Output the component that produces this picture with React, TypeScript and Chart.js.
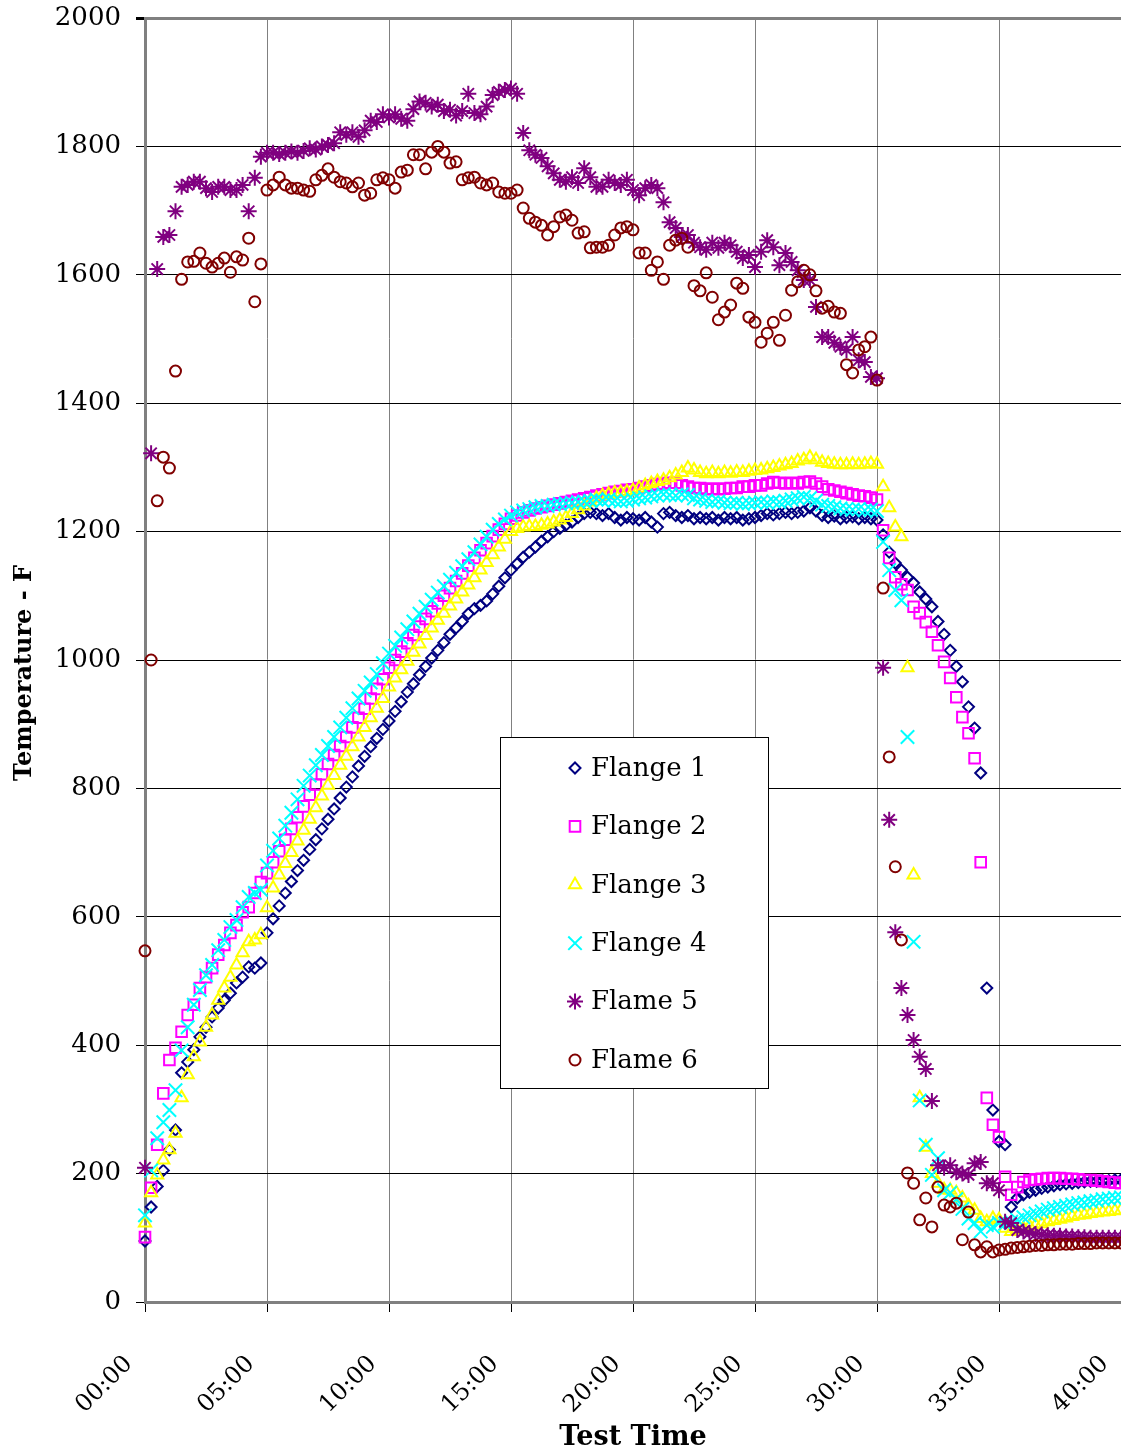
import React, { useEffect, useRef } from 'react';
import { Chart, registerables } from 'chart.js';
import { drawPoint } from 'chart.js/helpers';

Chart.register(...registerables);

// Sample times in minutes (one sample every 15 s)
const TIME_MIN = [
  0, 0.25, 0.5, 0.75, 1, 1.25, 1.5, 1.75, 2, 2.25, 2.5, 2.75, 3, 3.25, 3.5, 3.75, 4, 4.25, 4.5, 4.75,
  5, 5.25, 5.5, 5.75, 6, 6.25, 6.5, 6.75, 7, 7.25, 7.5, 7.75, 8, 8.25, 8.5, 8.75, 9, 9.25, 9.5, 9.75,
  10, 10.25, 10.5, 10.75, 11, 11.25, 11.5, 11.75, 12, 12.25, 12.5, 12.75, 13, 13.25, 13.5, 13.75, 14, 14.25, 14.5, 14.75,
  15, 15.25, 15.5, 15.75, 16, 16.25, 16.5, 16.75, 17, 17.25, 17.5, 17.75, 18, 18.25, 18.5, 18.75, 19, 19.25, 19.5, 19.75,
  20, 20.25, 20.5, 20.75, 21, 21.25, 21.5, 21.75, 22, 22.25, 22.5, 22.75, 23, 23.25, 23.5, 23.75, 24, 24.25, 24.5, 24.75,
  25, 25.25, 25.5, 25.75, 26, 26.25, 26.5, 26.75, 27, 27.25, 27.5, 27.75, 28, 28.25, 28.5, 28.75, 29, 29.25, 29.5, 29.75,
  30, 30.25, 30.5, 30.75, 31, 31.25, 31.5, 31.75, 32, 32.25, 32.5, 32.75, 33, 33.25, 33.5, 33.75, 34, 34.25, 34.5, 34.75,
  35, 35.25, 35.5, 35.75, 36, 36.25, 36.5, 36.75, 37, 37.25, 37.5, 37.75, 38, 38.25, 38.5, 38.75, 39, 39.25, 39.5, 39.75,
  40,
];

const FLANGE_1 = [
  95, 148, 180, 205, 237, 268, 357, 374, 393, 413, 428, 444, 458, 470, 481, 497, 506, 522, 520, 528,
  575, 597, 617, 637, 655, 672, 688, 705, 720, 737, 752, 768, 785, 802, 818, 835, 850, 865, 878, 892,
  905, 920, 935, 950, 963, 977, 990, 1003, 1015, 1027, 1040, 1050, 1060, 1072, 1080, 1085, 1092, 1103, 1115, 1128,
  1140, 1150, 1160, 1168, 1176, 1185, 1192, 1200, 1205, 1210, 1215, 1222, 1228, 1230, 1228, 1225, 1228, 1222, 1218, 1222,
  1220, 1218, 1222, 1215, 1207, 1228, 1230, 1225, 1222, 1225, 1220, 1222, 1220, 1222, 1218, 1222, 1220, 1222, 1218, 1220,
  1222, 1225, 1228, 1226, 1228, 1230, 1228, 1230, 1232, 1237, 1232, 1225, 1222, 1224, 1220, 1222, 1223, 1220, 1222, 1220,
  1218, 1195, 1168, 1151, 1140, 1129, 1120, 1106, 1095, 1083, 1060, 1040, 1015, 990, 966, 927, 894, 824, 489, 299,
  250, 245, 148, 162, 167, 171, 174, 177, 179, 181, 183, 184, 185, 186, 187, 188, 188, 189, 189, 190,
  190,
];

const FLANGE_2 = [
  101, 178, 245, 325, 377, 396, 421, 447, 463, 489, 506, 520, 541, 556, 575, 587, 607, 615, 637, 654,
  668, 685, 702, 720, 737, 755, 772, 790, 806, 822, 838, 852, 866, 880, 895, 910, 924, 940, 955, 970,
  988, 1000, 1013, 1026, 1039, 1052, 1064, 1076, 1088, 1100, 1112, 1123, 1135, 1147, 1159, 1171, 1182, 1193, 1203, 1212,
  1220, 1225, 1230, 1233, 1236, 1238, 1240, 1242, 1244, 1246, 1248, 1250, 1252, 1254, 1256, 1258, 1260, 1262, 1263, 1265,
  1266, 1268, 1270, 1272, 1274, 1275, 1276, 1276, 1272, 1270, 1268, 1268, 1266, 1267, 1266, 1267, 1268, 1268, 1270, 1270,
  1272, 1272, 1275, 1277, 1276, 1275, 1276, 1275, 1277, 1278, 1275, 1270, 1266, 1264, 1262, 1260, 1258, 1256, 1255, 1253,
  1250, 1202, 1159, 1129, 1118, 1109, 1083, 1073, 1059, 1044, 1023, 997, 972, 942, 911, 886, 847, 685, 318, 276,
  257, 195, 167, 179, 187, 190, 191, 192, 193, 193, 193, 192, 192, 191, 190, 190, 189, 188, 187, 186,
  185,
];

const FLANGE_3 = [
  123, 170, 198, 221, 237, 263, 318, 354, 382, 405, 428, 447, 470, 489, 506, 525, 544, 561, 564, 572,
  614, 645, 665, 683, 700, 718, 735, 752, 770, 788, 805, 820, 836, 850, 865, 880, 895, 910, 925, 940,
  958, 972, 985, 998, 1012, 1025, 1038, 1050, 1062, 1073, 1084, 1095, 1106, 1117, 1128, 1140, 1152, 1164, 1176, 1188,
  1200, 1205, 1207, 1208, 1208, 1210, 1212, 1215, 1218, 1222, 1228, 1234, 1240, 1246, 1252, 1256, 1258, 1260, 1261, 1262,
  1264, 1268, 1272, 1275, 1278, 1280, 1284, 1288, 1292, 1299, 1296, 1292, 1290, 1292, 1290, 1292, 1291, 1293, 1292, 1294,
  1295, 1296, 1298, 1300, 1302, 1304, 1306, 1310, 1312, 1316, 1312, 1308, 1306, 1305, 1304, 1304, 1305, 1304, 1305, 1306,
  1305, 1270, 1237, 1207, 1192, 988, 665, 318, 241, 200, 185, 175, 174, 170, 162, 150, 143, 130, 125, 130,
  128, 115, 110, 112, 115, 118, 120, 122, 125, 127, 129, 131, 133, 135, 136, 138, 139, 140, 141, 142,
  143,
];

const FLANGE_4 = [
  135, 205, 255, 280, 299, 330, 392, 428, 463, 486, 509, 525, 548, 564, 584, 595, 615, 631, 637, 642,
  680, 703, 722, 742, 762, 783, 804, 820, 836, 852, 866, 880, 895, 910, 925, 940, 952, 965, 978, 995,
  1010, 1022, 1035, 1048, 1060, 1072, 1083, 1094, 1105, 1115, 1125, 1136, 1146, 1157, 1168, 1180, 1192, 1203, 1212, 1219,
  1225, 1230, 1233, 1235, 1238, 1240, 1240, 1242, 1243, 1244, 1245, 1246, 1247, 1248, 1250, 1248, 1250, 1248, 1247, 1248,
  1250, 1252, 1253, 1255, 1256, 1258, 1257, 1256, 1258, 1257, 1252, 1250, 1248, 1246, 1247, 1245, 1244, 1245, 1243, 1244,
  1245, 1246, 1245, 1247, 1246, 1248, 1250, 1252, 1254, 1252, 1248, 1242, 1240, 1238, 1236, 1235, 1234, 1235, 1233, 1234,
  1232, 1184, 1140, 1109, 1093, 880, 561, 314, 245, 198, 224, 174, 170, 160, 145, 130, 123, 110, 120, 117,
  123, 122, 125, 128, 132, 135, 138, 141, 144, 146, 148, 150, 152, 154, 155, 157, 158, 160, 161, 162,
  163,
];

const FLAME_5 = [
  209, 1322, 1609, 1659, 1662, 1699, 1737, 1740, 1745, 1745, 1735, 1729, 1737, 1737, 1732, 1732, 1740, 1699, 1751, 1784,
  1790, 1790, 1788, 1790, 1792, 1790, 1793, 1797, 1795, 1800, 1802, 1805, 1822, 1818, 1822, 1815, 1825, 1840, 1838, 1850,
  1845, 1850, 1843, 1840, 1858, 1870, 1868, 1862, 1865, 1855, 1857, 1848, 1855, 1882, 1852, 1850, 1862, 1880, 1885, 1888,
  1890, 1882, 1821, 1794, 1787, 1782, 1769, 1758, 1748, 1745, 1752, 1743, 1766, 1752, 1737, 1737, 1748, 1743, 1740, 1748,
  1732, 1724, 1735, 1740, 1735, 1713, 1682, 1673, 1659, 1662, 1650, 1643, 1639, 1650, 1642, 1650, 1646, 1636, 1626, 1631,
  1612, 1636, 1654, 1643, 1615, 1634, 1620, 1607, 1592, 1592, 1550, 1503, 1503, 1494, 1488, 1483, 1503, 1467, 1464, 1441,
  1439, 988, 751, 576, 489, 447, 408, 382, 363, 313, 213, 209, 213, 202, 200, 198, 216, 218, 185, 185,
  174, 125, 123, 112, 110, 108, 106, 105, 104, 103, 103, 102, 102, 101, 101, 100, 100, 100, 100, 100,
  100,
];

const FLAME_6 = [
  547, 1000, 1248, 1316, 1299, 1450, 1593, 1620, 1621, 1634, 1618, 1612, 1618, 1626, 1604, 1628, 1623, 1657, 1558, 1617,
  1732, 1740, 1752, 1740, 1735, 1735, 1732, 1730, 1748, 1755, 1765, 1752, 1745, 1743, 1737, 1743, 1724, 1727, 1748, 1751,
  1748, 1735, 1760, 1763, 1787, 1787, 1765, 1791, 1800, 1791, 1774, 1776, 1748, 1751, 1752, 1743, 1740, 1743, 1729, 1727,
  1727, 1732, 1704, 1688, 1682, 1677, 1662, 1675, 1690, 1693, 1685, 1665, 1667, 1642, 1643, 1643, 1646, 1662, 1673, 1675,
  1670, 1634, 1634, 1607, 1620, 1593, 1646, 1654, 1657, 1643, 1583, 1575, 1603, 1565, 1530, 1542, 1553, 1587, 1579, 1534,
  1526, 1495, 1509, 1526, 1498, 1537, 1576, 1589, 1607, 1600, 1575, 1548, 1551, 1542, 1540, 1460, 1447, 1483, 1488, 1503,
  1436, 1112, 849, 678, 564, 201, 185, 128, 162, 117, 179, 151, 148, 154, 97, 140, 89, 78, 86, 78,
  81, 82, 84, 85, 86, 87, 88, 88, 89, 89, 90, 90, 90, 91, 91, 91, 92, 92, 92, 92,
  92,
];

const SERIES_LABELS = ['Flange 1', 'Flange 2', 'Flange 3', 'Flange 4', 'Flame 5', 'Flame 6'];
const SERIES_VALUES = [FLANGE_1, FLANGE_2, FLANGE_3, FLANGE_4, FLAME_5, FLAME_6];

const X_TICK_LABELS = ['00:00', '05:00', '10:00', '15:00', '20:00', '25:00', '30:00', '35:00', '40:00'];
const Y_TICKS = [0, 200, 400, 600, 800, 1000, 1200, 1400, 1600, 1800, 2000];
const Y_TITLE = 'Temperature - F';
const X_TITLE = 'Test Time';

const STYLES = [
  { color: '#000080', pointStyle: 'rectRot', radius: 5.5 },
  { color: '#FF00FF', pointStyle: 'rect', radius: 7.5 },
  { color: '#FFFF00', pointStyle: 'triangle', radius: 7 },
  { color: '#00FFFF', pointStyle: 'crossRot', radius: 9.5 },
  { color: '#800080', pointStyle: 'star', radius: 8 },
  { color: '#800000', pointStyle: 'circle', radius: 5.5 },
];

const FONT = "'DejaVu Serif', serif";

const legendBoxPlugin = {
  id: 'legendBox',
  afterDatasetsDraw(chart: any) {
    const { ctx, chartArea } = chart;
    const x = chartArea.left + 355;
    const y = chartArea.top + 719;
    const w = 268;
    const h = 351;
    ctx.save();
    ctx.fillStyle = '#ffffff';
    ctx.fillRect(x, y, w, h);
    ctx.strokeStyle = '#000000';
    ctx.lineWidth = 1;
    ctx.strokeRect(x + 0.5, y + 0.5, w, h);
    chart.data.datasets.forEach((ds: any, i: number) => {
      const cy = y + 31 + i * 58.4;
      ctx.save();
      ctx.fillStyle = 'rgba(0,0,0,0)';
      ctx.strokeStyle = ds.borderColor;
      ctx.lineWidth = 2;
      drawPoint(ctx, { pointStyle: ds.pointStyle, radius: ds.pointRadius, borderWidth: 2, rotation: 0 } as any, x + 75, cy);
      ctx.restore();
      ctx.fillStyle = '#000000';
      ctx.font = `26px ${FONT}`;
      ctx.textAlign = 'left';
      ctx.textBaseline = 'middle';
      ctx.fillText(ds.label, x + 91, cy + 1);
    });
    ctx.restore();
  },
};

const yTitlePlugin = {
  id: 'yTitle',
  afterDraw(chart: any) {
    const { ctx, chartArea } = chart;
    ctx.save();
    ctx.translate(25, (chartArea.top + chartArea.bottom) / 2 + 13);
    ctx.rotate(-Math.PI / 2);
    ctx.fillStyle = '#000';
    ctx.font = `bold 24px ${FONT}`;
    ctx.textAlign = 'center';
    ctx.textBaseline = 'middle';
    ctx.fillText(Y_TITLE, 0, 0);
    ctx.restore();
  },
};

export default function App() {
  const canvasRef = useRef<HTMLCanvasElement | null>(null);

  useEffect(() => {
    if (!canvasRef.current) return;
    const datasets = SERIES_LABELS.map((label, si) => ({
      label,
      data: TIME_MIN.map((t, i) => ({ x: t, y: SERIES_VALUES[si][i] })),
      showLine: false,
      pointStyle: STYLES[si].pointStyle,
      pointRadius: STYLES[si].radius,
      pointBorderWidth: 2,
      borderWidth: 2,
      borderColor: STYLES[si].color,
      backgroundColor: 'rgba(0,0,0,0)',
      pointBackgroundColor: 'rgba(0,0,0,0)',
      pointBorderColor: STYLES[si].color,
      clip: false as any,
      order: SERIES_LABELS.length - si,
    }));

    const chart = new Chart(canvasRef.current, {
      type: 'scatter',
      data: { datasets },
      options: {
        responsive: false,
        animation: false,
        events: [],
        layout: { autoPadding: false, padding: { top: 18, left: 0, right: 0, bottom: 0 } },
        plugins: { legend: { display: false }, tooltip: { enabled: false } },
        scales: {
          x: {
            type: 'linear',
            min: 0,
            max: 40,
            afterBuildTicks: (scale: any) => {
              scale.ticks = X_TICK_LABELS.map((_, i) => ({ value: i * 5 }));
            },
            ticks: {
              autoSkip: false,
              minRotation: 45,
              maxRotation: 45,
              padding: 38,
              labelOffset: -16,
              color: '#000',
              font: { family: FONT, size: 24 },
              callback: (_v: any, i: number) => X_TICK_LABELS[i],
            },
            grid: { color: '#808080', lineWidth: 1, tickLength: 10, tickColor: '#000' },
            border: { color: '#808080', width: 3 },
            title: {
              display: true,
              text: X_TITLE,
              color: '#000',
              font: { family: FONT, size: 27, weight: 'bold' },
              padding: { top: 0, bottom: 2 },
            },
            afterFit: (s: any) => {
              s.height = 154;
              s.paddingLeft = 0;
              s.paddingRight = 0;
            },
          },
          y: {
            type: 'linear',
            min: 0,
            max: 2000,
            afterBuildTicks: (scale: any) => {
              scale.ticks = Y_TICKS.map((v) => ({ value: v }));
            },
            ticks: {
              padding: 15,
              color: '#000',
              font: { family: FONT, size: 26 },
              callback: (v: any) => String(v),
            },
            grid: {
              color: (c: any) => (c.tick && c.tick.value === 2000 ? '#808080' : '#000000'),
              lineWidth: (c: any) => (c.tick && c.tick.value === 2000 ? 3 : 1),
              tickLength: 9,
              tickColor: '#000',
            },
            border: { color: '#808080', width: 3 },
            title: { display: false },
            afterFit: (s: any) => {
              s.width = 145;
              s.paddingTop = 0;
              s.paddingBottom = 0;
            },
          },
        },
      },
      plugins: [legendBoxPlugin, yTitlePlugin],
    } as any);

    return () => chart.destroy();
  }, []);

  return (
    <div style={{ position: 'absolute', left: 0, top: 0, width: 1121, height: 1456, background: '#fff', overflow: 'hidden' }}>
      <canvas ref={canvasRef} width={1121} height={1456} style={{ width: 1121, height: 1456 }} />
    </div>
  );
}
